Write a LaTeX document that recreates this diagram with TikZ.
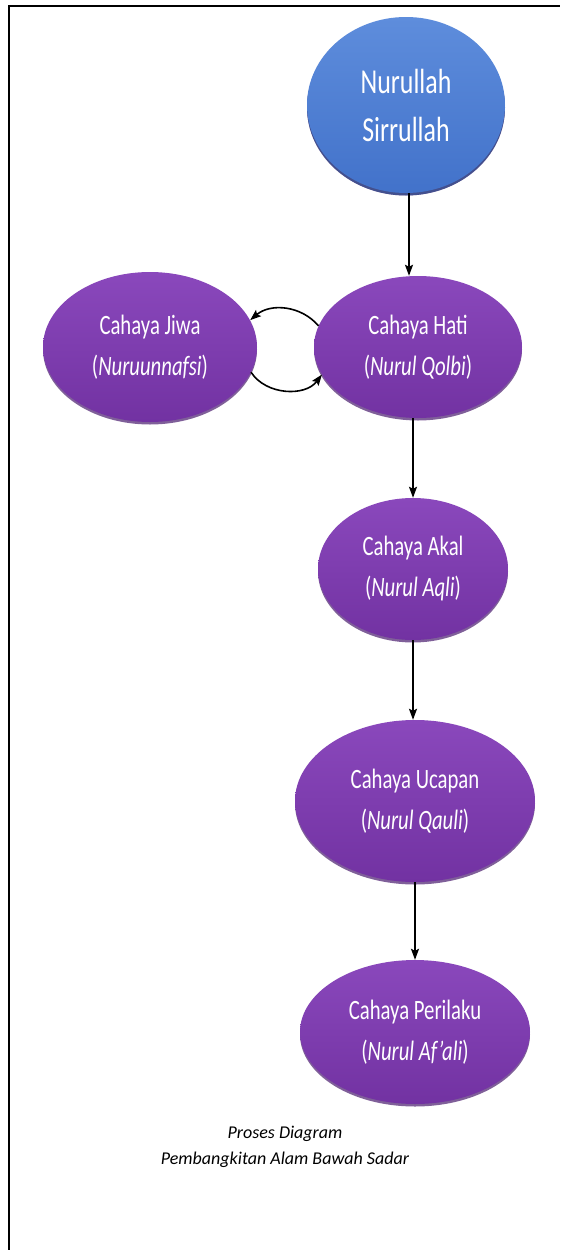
\documentclass[tikz,border=0pt]{standalone}
\usepackage{fontspec}
\setmainfont{Carlito}
\usetikzlibrary{shapes.geometric,arrows.meta,shadows}
\definecolor{purp}{HTML}{7836A8}
\definecolor{purptop}{HTML}{8A48BC}
\definecolor{purpbot}{HTML}{7232A2}
\definecolor{purpshadow}{HTML}{4A1C6E}
\definecolor{blu}{HTML}{4A7CD4}
\definecolor{blutop}{HTML}{5E8DDC}
\definecolor{blubot}{HTML}{4272CA}
\definecolor{blushadow}{HTML}{2A4A8A}
\newcommand\cond[1]{\scalebox{0.74}[1]{#1}}
\begin{document}
\begin{tikzpicture}[x=1pt,y=-1pt,
  bub/.style={ellipse, inner sep=0pt, text=white, align=center,
    font=\fontsize{28}{41}\selectfont,
    top color=purptop, middle color=purp, bottom color=purpbot,
    drop shadow={shadow xshift=0pt, shadow yshift=-2.5pt, fill=purpshadow, opacity=0.7}},
  bluebub/.style={bub, top color=blutop, middle color=blu, bottom color=blubot,
    drop shadow={shadow xshift=0pt, shadow yshift=-2.5pt, fill=blushadow, opacity=0.7},
    font=\fontsize{35}{48}\selectfont},
  arr/.style={-{Stealth[length=11pt,width=8pt,inset=2pt]}, line width=1.6pt, black},
  frame/.style={line width=2.2pt, black},
  caption/.style={font=\itshape\fontsize{18}{26}\selectfont, align=center}
]
\useasboundingbox (0,0) rectangle (560,1250);
\fill[white] (0,0) rectangle (560,1250);
\draw[frame] (9,1250) -- (9,6) -- (560,6);

\node[bluebub, minimum width=198pt, minimum height=176pt] (nur) at (406,105)
  {\cond{Nurullah}\\\cond{Sirrullah}};
\node[bub, minimum width=208pt, minimum height=142pt] (hati) at (418,347)
  {\cond{Cahaya Hati}\\\cond{(\textit{Nurul Qolbi})}};
\node[bub, minimum width=214pt, minimum height=150pt] (jiwa) at (150,347)
  {\cond{Cahaya Jiwa}\\\cond{(\textit{Nuruunnafsi})}};
\node[bub, minimum width=190pt, minimum height=142pt] (akal) at (413,569)
  {\cond{Cahaya Akal}\\\cond{(\textit{Nurul Aqli})}};
\node[bub, minimum width=240pt, minimum height=162pt] (uca) at (415,801)
  {\cond{Cahaya Ucapan}\\\cond{(\textit{Nurul Qauli})}};
\node[bub, minimum width=230pt, minimum height=144pt] (peri) at (415,1032)
  {\cond{Cahaya Perilaku}\\\cond{(\textit{Nurul Af’ali})}};

\draw[arr] ([xshift=3pt]nur.south) -- ([xshift=3pt]nur.south |- hati.north);
\draw[arr] (hati.south -| akal.north) -- (akal.north);
\draw[arr] (akal.south) -- (akal.south |- uca.north);
\draw[arr] (uca.south) -- (peri.north);
\draw[arr] (hati.168) to[bend right=45] (jiwa.15);
\draw[arr] (jiwa.-14) to[bend right=55] (hati.-164);

\node[caption] (cap) at (285,1147) {Proses Diagram\\Pembangkitan Alam Bawah Sadar};
\end{tikzpicture}
\end{document}
